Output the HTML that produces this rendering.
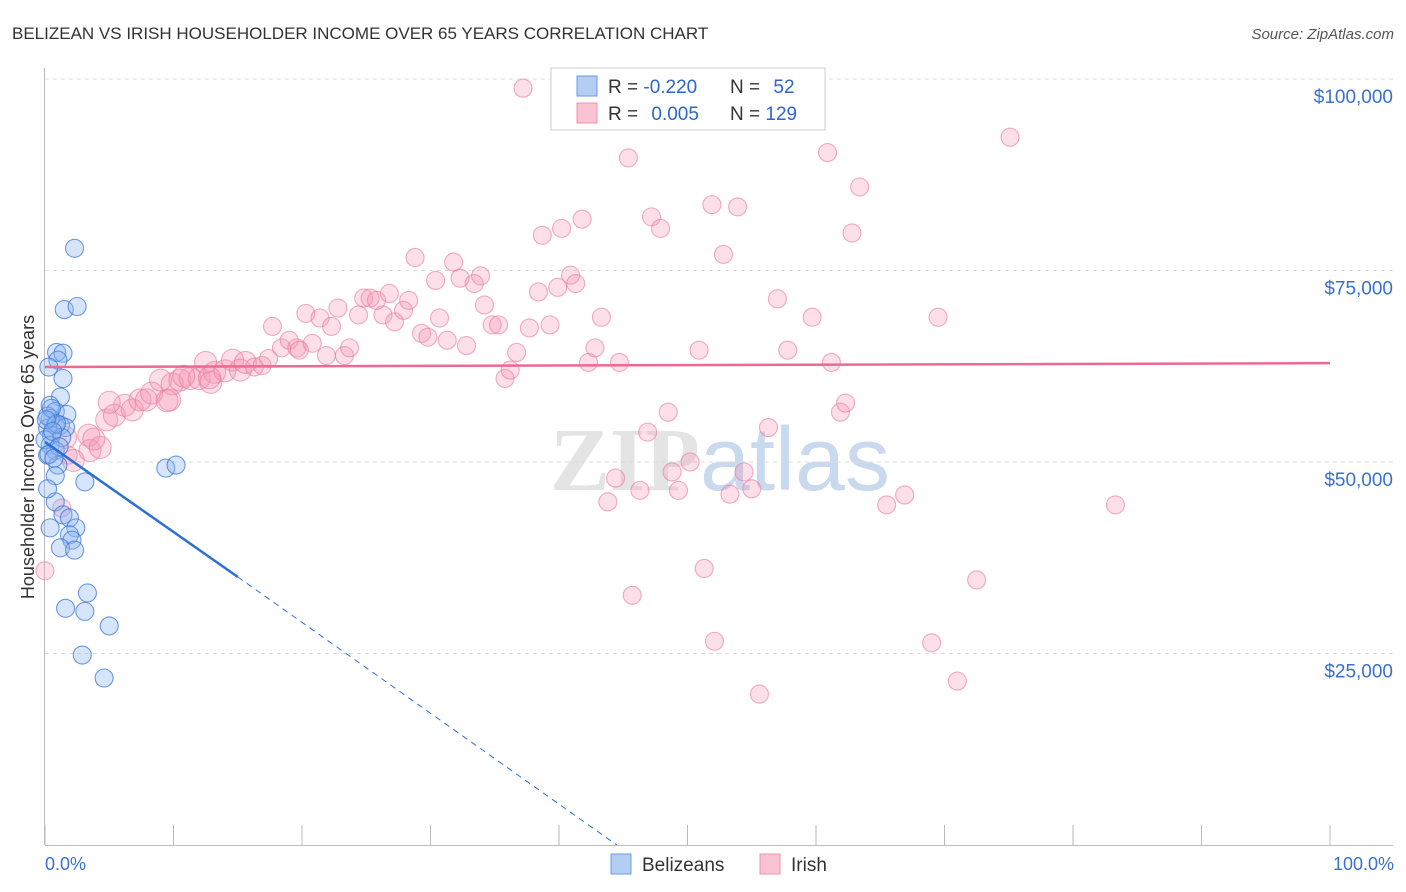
<!DOCTYPE html>
<html><head><meta charset="utf-8"><style>
body{margin:0;background:#fff;font-family:"Liberation Sans",sans-serif}
svg{display:block}
</style></head><body>
<svg width="1406" height="892" viewBox="0 0 1406 892" xmlns="http://www.w3.org/2000/svg">
<text x="12" y="39" font-size="17" fill="#333">BELIZEAN VS IRISH HOUSEHOLDER INCOME OVER 65 YEARS CORRELATION CHART</text>
<text x="1394" y="39" font-size="15" fill="#555" font-style="italic" text-anchor="end">Source: ZipAtlas.com</text>
<text x="720" y="490" font-size="90" fill="#e4e4e4" text-anchor="middle" font-weight="bold" font-family="Liberation Serif,serif">ZIP<tspan fill="#c9d9ee" font-family="Liberation Sans,sans-serif" font-weight="normal">atlas</tspan></text>
<g id="grid"></g>
<g id="axes"></g>
<g id="marks"></g>
<text x="34" y="457" font-size="18" fill="#333" text-anchor="middle" transform="rotate(-90 34 457)">Householder Income Over 65 years</text>
<text x="45" y="870" font-size="18" fill="#3a70d0">0.0%</text>
<text x="1394" y="870" font-size="18" fill="#3a70d0" text-anchor="end">100.0%</text>
<g>
<rect x="551" y="68" width="274" height="62" fill="#fff" stroke="#ccc"/>
<rect x="577" y="76" width="20" height="20" fill="#b3cdf3" stroke="#6b9be0"/>
<text x="608" y="93" font-size="19" fill="#333">R = <tspan fill="#2d66cc">-0.220</tspan></text>
<text x="730" y="93" font-size="19" fill="#333">N = <tspan fill="#2d66cc" dx="8">52</tspan></text>
<rect x="577" y="103" width="20" height="20" fill="#f9c3d3" stroke="#ee93ae"/>
<text x="608" y="120" font-size="19" fill="#333">R = <tspan fill="#2d66cc" dx="8">0.005</tspan></text>
<text x="730" y="120" font-size="19" fill="#333">N = <tspan fill="#2d66cc">129</tspan></text>
</g>
<g>
<rect x="611" y="854" width="20" height="20" fill="#b3cdf3" stroke="#6b9be0"/>
<text x="642" y="871" font-size="19" fill="#333">Belizeans</text>
<rect x="760" y="854" width="20" height="20" fill="#f9c3d3" stroke="#ee93ae"/>
<text x="791" y="871" font-size="19" fill="#333">Irish</text>
</g>
</svg>
<script>
const yTicks=[25000,50000,75000,100000];
const yTickLabels=["$25,000","$50,000","$75,000","$100,000"];
const belX=[2.3,1.5,2.5,0.9,1.4,1.0,0.3,1.4,1.2,0.4,0.8,1.7,0.4,0.8,1.2,1.6,0.2,0.5,1.3,0.4,0.8,0.2,1.0,9.4,10.2,3.1,0.8,0.8,0.4,1.4,1.9,2.4,1.9,2.1,1.2,2.3,3.3,1.6,3.1,5.0,2.9,4.6,0.0,0.2,0.5,0.9,0.1,0.6,1.1,0.3,0.7,0.2];
const belY=[77.9,69.9,70.3,64.3,64.2,63.3,62.4,60.9,58.5,57.4,56.6,56.2,55.7,54.8,54.8,54.5,54.4,53.5,53.2,52.2,51.5,50.9,49.6,49.2,49.6,47.4,48.2,44.8,41.4,43.1,42.7,41.4,40.5,39.8,38.8,38.5,32.9,30.9,30.5,28.6,24.8,21.8,52.9,56.0,57.0,55.0,55.5,54.0,52.0,51.0,50.5,46.5];
const irX=[0,1.3,1.8,2.2,3.4,3.5,4.3,4.8,5.4,6.2,6.8,7.4,7.9,8.3,9.0,9.7,9.9,10.5,11.3,12.0,12.5,12.9,13.2,14.0,14.6,15.2,15.6,16.3,16.9,17.4,17.7,18.4,19.0,19.6,19.8,20.3,20.8,21.4,21.9,22.3,22.8,23.3,23.7,24.4,24.8,25.3,25.8,26.3,26.8,27.2,27.9,28.3,28.8,29.3,29.8,30.4,30.7,31.3,31.8,32.3,32.8,33.4,33.9,34.2,34.8,35.3,35.8,36.2,36.7,37.2,37.7,38.4,38.7,39.3,39.9,40.2,40.9,41.3,41.8,42.3,42.8,43.3,43.8,44.4,44.7,45.4,45.7,46.3,46.9,47.2,47.9,48.5,48.8,49.3,50.2,50.9,51.3,51.9,52.1,52.8,53.3,53.9,54.4,55.0,55.6,56.3,57.0,57.8,59.7,60.9,61.2,61.9,62.3,62.8,63.4,65.5,66.9,69.0,69.5,71.0,72.5,75.1,83.3,5.0,9.5,3.8,1.6,12.8,10.8];
const irY=[35.8,44.0,50.9,50.2,53.5,51.5,51.9,55.5,56.1,57.4,56.8,58.1,58.1,59.0,60.7,58.1,60.2,60.7,60.9,60.9,63.0,60.4,61.7,61.9,63.3,62.0,63.0,62.4,62.6,63.5,67.7,64.9,65.9,64.9,64.6,69.4,65.5,68.8,63.9,67.7,70.1,63.9,64.9,69.2,71.4,71.4,71.1,69.2,72.0,68.3,69.8,71.1,76.7,66.8,66.3,73.7,68.8,65.9,76.1,74.0,65.2,73.3,74.3,70.5,67.9,67.9,60.9,62.0,64.3,98.8,67.5,72.2,79.6,67.9,72.8,80.5,74.4,73.3,81.7,63.0,64.9,68.9,44.8,47.9,63.0,89.7,32.6,46.3,53.9,82.0,80.5,56.5,48.7,46.3,50.0,64.6,36.1,83.6,26.6,77.1,45.8,83.3,48.7,46.5,19.7,54.5,71.3,64.6,68.9,90.4,63.0,56.5,57.7,79.9,85.9,44.4,45.7,26.4,68.9,21.4,34.6,92.4,44.4,57.8,58.0,53.0,53.2,61.0,61.2];
const belTrend=[[0,52.6],[15,35.0],[44.5,0]];
const irTrend=[[0,62.4],[100,62.9]];
const X=p=>45+p*12.85, Y=k=>845-k*1000/25000*191.5;
const NS="http://www.w3.org/2000/svg";
function mk(t,a,parent){const e=document.createElementNS(NS,t);for(const k in a)e.setAttribute(k,a[k]);document.getElementById(parent).appendChild(e);return e;}
yTicks.forEach((v,i)=>{
 const g=mk('line',{x1:45,x2:1393,y1:Y(v/1000),y2:Y(v/1000),stroke:'#ddd','stroke-dasharray':'4,4'},'grid');
 
 
 const t=mk('text',{x:1393,y:Y(v/1000)+24,'font-size':19,fill:'#3a70d0','text-anchor':'end'},'axes');
 t.textContent=yTickLabels[i];
 
 
});
const ax=mk('line',{x1:44.5,x2:44.5,y1:68,y2:845,stroke:'#bbb'},'axes');


const bx=mk('line',{x1:45,x2:1393,y1:845.5,y2:845.5,stroke:'#bbb'},'axes');


for(let i=0;i<=10;i++){const t=mk('line',{x1:X(i*10),x2:X(i*10),y1:825,y2:845,stroke:'#bbb'},'axes');
 
 }
irX.forEach((x,i)=>{const r=(x<16&&i>2)?11:9;const c=mk('circle',{cx:X(x),cy:Y(irY[i]),r:r,fill:'rgba(244,150,180,0.3)',stroke:'rgba(232,120,155,0.6)','stroke-width':1.1},'marks');
 
 });
belX.forEach((x,i)=>{const c=mk('circle',{cx:X(x),cy:Y(belY[i]),r:9,fill:'rgba(140,180,240,0.35)',stroke:'rgba(60,120,215,0.75)','stroke-width':1.1},'marks');
 
 });
const l1=mk('line',{x1:X(belTrend[0][0]),y1:Y(belTrend[0][1]),x2:X(belTrend[1][0]),y2:Y(belTrend[1][1]),stroke:'#2b6fd6','stroke-width':2.5},'marks');


const l2=mk('line',{x1:X(belTrend[1][0]),y1:Y(belTrend[1][1]),x2:X(belTrend[2][0]),y2:Y(belTrend[2][1]),stroke:'#2b6fd6','stroke-width':1,'stroke-dasharray':'6,5'},'marks');


const l3=mk('line',{x1:X(irTrend[0][0]),y1:Y(irTrend[0][1]),x2:X(irTrend[1][0]),y2:Y(irTrend[1][1]),stroke:'#ec6a92','stroke-width':2.5},'marks');


</script>
</body></html>
